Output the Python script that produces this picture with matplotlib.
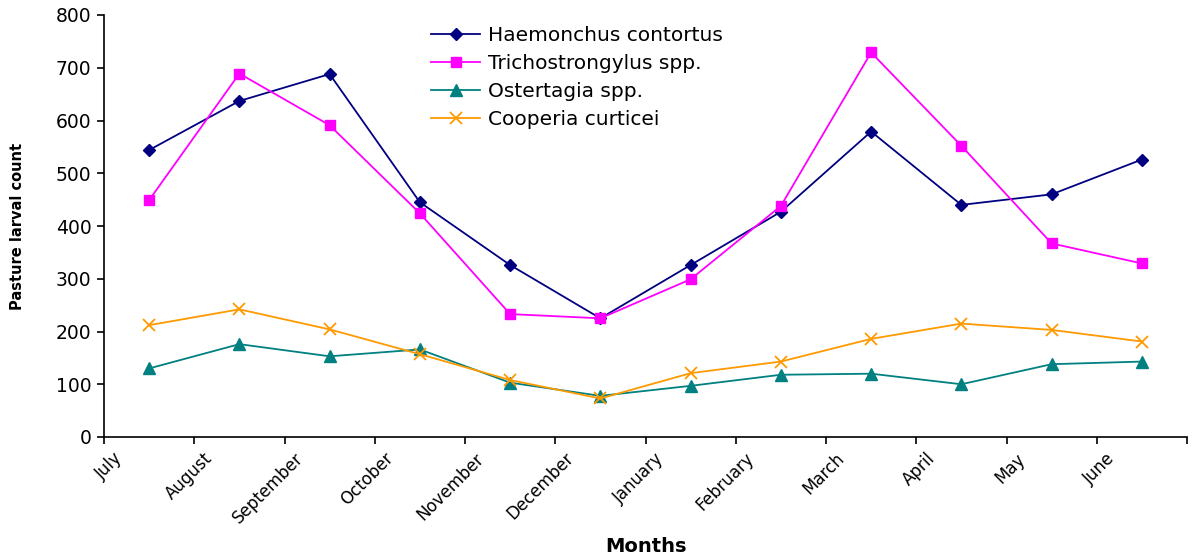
import matplotlib
matplotlib.use("Agg")
import matplotlib.pyplot as plt
import matplotlib.transforms as mtransforms
import numpy as np

# Data
months = ["July", "August", "September", "October", "November", "December",
          "January", "February", "March", "April", "May", "June"]
haemonchus = [544, 637, 688, 445, 326, 225, 326, 427, 579, 440, 460, 526]
trichostrongylus = [449, 689, 591, 424, 233, 225, 299, 438, 729, 552, 367, 329]
ostertagia = [130, 176, 153, 166, 103, 78, 97, 118, 120, 100, 138, 143]
cooperia = [212, 242, 204, 157, 108, 73, 121, 143, 186, 215, 203, 181]
yticks = [0, 100, 200, 300, 400, 500, 600, 700, 800]

plt.rcParams['font.family'] = ['DejaVu Sans']

W, H = 1193, 559
f = plt.figure(figsize=(W/100., H/100.), dpi=100)
ax = f.add_axes([104./W, 1-437./H, (1187.-104.)/W, (437.-15.)/H])

x = np.arange(len(months))
ax.plot(x, haemonchus, color="#000080", lw=1.3, marker="D", ms=6.5,
        label="Haemonchus contortus")
ax.plot(x, trichostrongylus, color="#FF00FF", lw=1.3, marker="s", ms=7.5,
        label="Trichostrongylus spp.")
ax.plot(x, ostertagia, color="#008080", lw=1.3, marker="^", ms=8.5,
        label="Ostertagia spp.")
ax.plot(x, cooperia, color="#FF9900", lw=1.3, marker="x", ms=8, mew=1.3,
        label="Cooperia curticei")

ax.set_xlim(-0.5, len(months)-0.5)
ax.set_ylim(0, 800)
ax.set_yticks(yticks)
ax.tick_params(axis="y", direction="out", length=5, width=1.2, labelsize=13.5, pad=4)

# category boundaries get tick marks, centres get labels
ax.set_xticks(np.arange(-0.5, len(months)), labels=[""]*(len(months)+1))
ax.set_xticks(x, labels=months, minor=True)
ax.tick_params(axis="x", which="major", direction="out", length=5, width=1.2)
ax.tick_params(axis="x", which="minor", length=0, labelsize=12, pad=9)
off = mtransforms.ScaledTranslation(-23/100., 0, f.dpi_scale_trans)
for lab in ax.get_xticklabels(minor=True):
    lab.set_rotation(45)
    lab.set_ha("right")
    lab.set_va("top")
    lab.set_transform(lab.get_transform() + off)

for s in ["top", "right"]:
    ax.spines[s].set_visible(False)
for s in ["left", "bottom"]:
    ax.spines[s].set_linewidth(1.2)

leg = ax.legend(loc="upper left", bbox_to_anchor=(431./W, 1-26./H),
                bbox_transform=f.transFigure, frameon=False, fontsize=14.5,
                handlelength=2.45, handletextpad=0.38, labelspacing=0.445,
                borderaxespad=0, borderpad=0)

f.text(18./W, 1-226./H, "Pasture larval count", rotation=90, ha="center",
       va="center", fontsize=10.5, fontweight="bold")
f.text(646./W, 1-547./H, "Months", ha="center", va="center", fontsize=14,
       fontweight="bold")

f.savefig("out.png", dpi=100)
